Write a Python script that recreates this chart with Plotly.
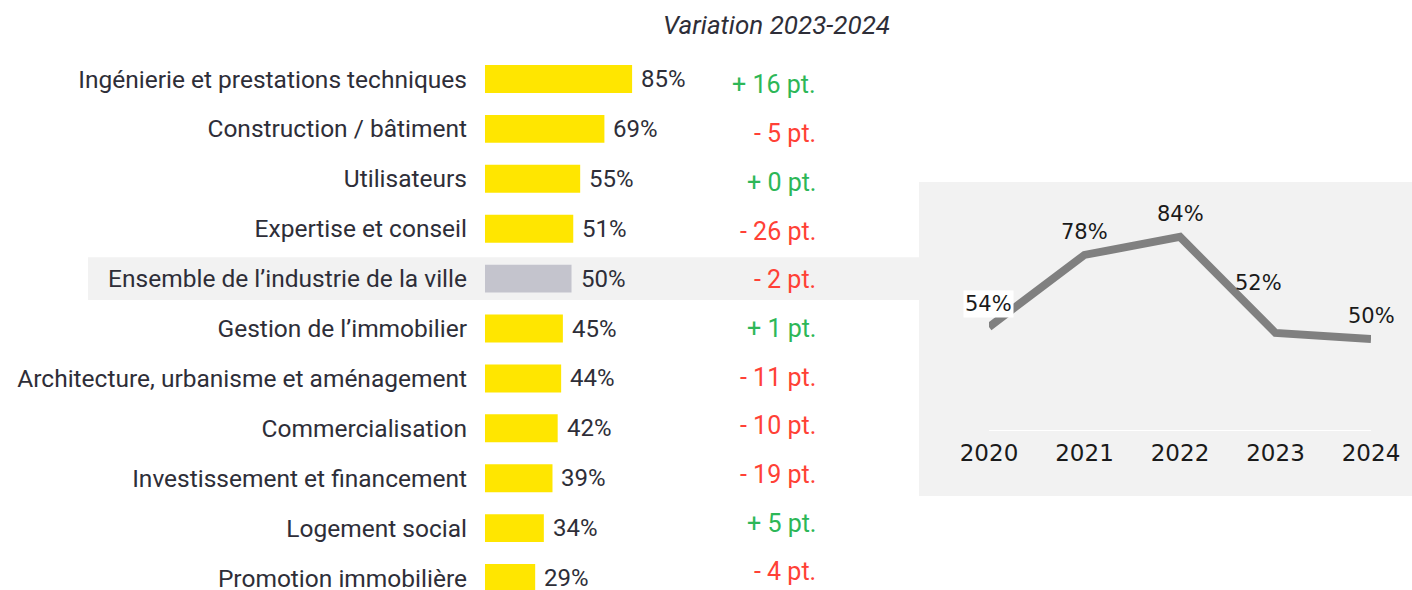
import plotly.graph_objects as go

W, H = 1412, 590

categories = [
    "Ingénierie et prestations techniques",
    "Construction / bâtiment",
    "Utilisateurs",
    "Expertise et conseil",
    "Ensemble de l’industrie de la ville",
    "Gestion de l’immobilier",
    "Architecture, urbanisme et aménagement",
    "Commercialisation",
    "Investissement et financement",
    "Logement social",
    "Promotion immobilière",
]
values = [85, 69, 55, 51, 50, 45, 44, 42, 39, 34, 29]
variations = [16, -5, 0, -26, -2, 1, -11, -10, -19, 5, -4]
highlight = "Ensemble de l’industrie de la ville"

years = [2020, 2021, 2022, 2023, 2024]
trend = [54, 78, 84, 52, 50]

YELLOW = "#FFE600"
GREYBAR = "#C4C4CD"
BAND = "#F2F2F2"
TXT = "#2E2E38"
GREEN = "#2DB757"
RED = "#FF4136"
LABEL_FONT = "Roboto"
LINE_FONT = "DejaVu Sans"

def px(xp):
    return xp / W

def py(yp):
    return 1 - yp / H

bar_colors = [GREYBAR if c == highlight else YELLOW for c in categories]

fig = go.Figure()

fig.add_trace(go.Bar(
    y=categories, x=values, orientation="h",
    marker=dict(color=bar_colors, line=dict(width=0)),
    width=0.56, hoverinfo="skip", showlegend=False,
    xaxis="x", yaxis="y",
))

# invisible helper trace for variation column axis
fig.add_trace(go.Scatter(
    y=categories, x=[0] * len(categories), mode="markers",
    marker=dict(opacity=0), hoverinfo="skip", showlegend=False,
    xaxis="x", yaxis="y3",
))

fig.add_trace(go.Scatter(
    x=years, y=trend, mode="lines",
    line=dict(color="#808080", width=8),
    hoverinfo="skip", showlegend=False,
    xaxis="x2", yaxis="y2",
))

annotations = []
for c, v in zip(categories, values):
    annotations.append(dict(
        x=v, y=c, xref="x", yref="y", text=f"{v}%",
        xanchor="left", yanchor="middle", xshift=7, showarrow=False,
        font=dict(family=LABEL_FONT, size=24, color=TXT),
    ))
for c, d in zip(categories, variations):
    sign = "+" if d >= 0 else "-"
    annotations.append(dict(
        x=px(818), y=c, xref="paper", yref="y3", text=f"{sign} {abs(d)} pt.",
        xanchor="right", yanchor="middle", showarrow=False,
        font=dict(family=LABEL_FONT, size=25, color=GREEN if d >= 0 else RED),
    ))

# line labels
label_shift = {2023: (-17, 50)}
for yr, v in zip(years, trend):
    dx, dy = label_shift.get(yr, (0, 23))
    annotations.append(dict(
        x=yr, y=v, xref="x2", yref="y2", text=f"{v}%",
        xanchor="center", yanchor="middle", xshift=dx, yshift=dy,
        showarrow=False,
        bgcolor="white" if yr == years[0] else "rgba(0,0,0,0)",
        borderpad=1,
        font=dict(family=LINE_FONT, size=21, color="#1A1A1A"),
    ))

annotations.append(dict(
    x=px(776), y=py(25), xref="paper", yref="paper",
    text="<i>Variation 2023-2024</i>", showarrow=False,
    xanchor="center", yanchor="middle",
    font=dict(family=LABEL_FONT, size=26, color=TXT),
))

hi = categories.index(highlight)
shapes = [
    # right-hand panel
    dict(type="rect", xref="paper", yref="paper",
         x0=px(919), x1=1, y0=py(496), y1=py(182),
         fillcolor=BAND, line=dict(width=0), layer="below"),
    # highlight band
    dict(type="rect", xref="paper", yref="y",
         x0=px(88), x1=px(919), y0=hi - 0.43, y1=hi + 0.43,
         fillcolor=BAND, line=dict(width=0), layer="below"),
]

fig.update_layout(
    width=W, height=H, autosize=False,
    margin=dict(l=0, r=0, t=0, b=0, pad=0),
    paper_bgcolor="white", plot_bgcolor="rgba(0,0,0,0)",
    xaxis=dict(domain=[px(485), px(819)], range=[0, 193], automargin=False,
               showgrid=False, zeroline=False, showticklabels=False,
               showline=False, fixedrange=True),
    yaxis=dict(domain=[0, 1], type="category", automargin=False,
               categoryorder="array", categoryarray=categories,
               range=[10.24, -1.583], showgrid=False, zeroline=False,
               ticks="", ticklabelstandoff=17, showline=False,
               tickfont=dict(family=LABEL_FONT, size=24.5, color=TXT)),
    yaxis3=dict(overlaying="y", type="category", automargin=False,
                categoryorder="array", categoryarray=categories,
                range=[10.37, -1.745], visible=False),
    xaxis2=dict(domain=[px(989), px(1371)], range=[2020, 2024],
                anchor="y2", showgrid=False, zeroline=False, automargin=False,
                tickmode="array", tickvals=years, ticktext=[str(y) for y in years],
                ticks="", showline=True, linecolor="white", linewidth=1,
                ticklabelstandoff=2,
                tickfont=dict(family=LINE_FONT, size=23, color="#1A1A1A")),
    yaxis2=dict(domain=[py(430), py(182)], range=[19.67, 102.3],
                anchor="x2", visible=False, automargin=False),
    annotations=annotations,
    shapes=shapes,
    bargap=0.44,
)

fig.write_html(
    "out.html",
    config={"displayModeBar": False, "staticPlot": True},
    post_script="document.body.style.margin='0';document.body.style.overflow='hidden';",
)
